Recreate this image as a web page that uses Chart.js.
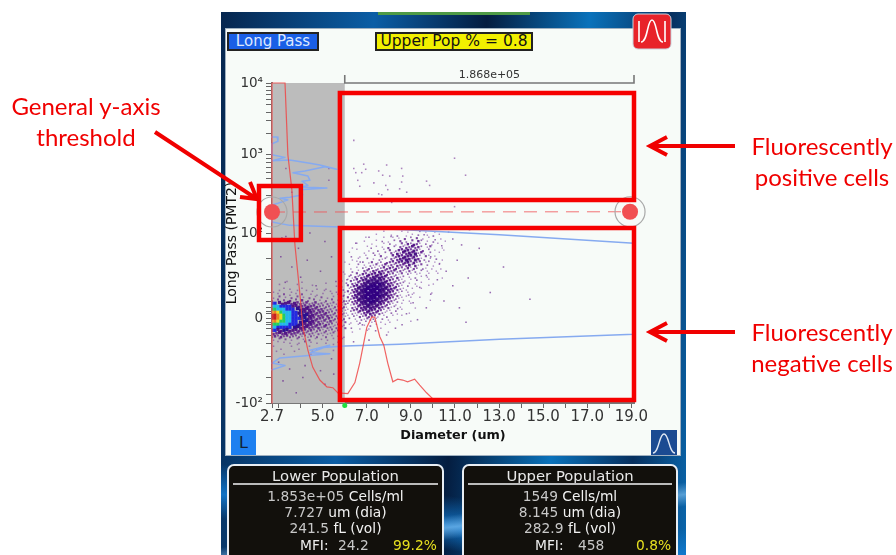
<!DOCTYPE html>
<html>
<head>
<meta charset="utf-8">
<title>Long Pass threshold</title>
<script src="https://cdn.jsdelivr.net/npm/chart.js@4/dist/chart.umd.min.js"></script>
<style>
html, body { margin: 0; padding: 0; background: #fff; }
body { width: 896px; height: 555px; position: relative; overflow: hidden; font-family: "DejaVu Sans", sans-serif; }
#frame { position: absolute; left: 221px; top: 12px; width: 465px; height: 543px; overflow: hidden;
    background:
        linear-gradient(172deg, transparent 88%, rgba(150,210,255,.55) 90%, transparent 92%),
        linear-gradient(8deg, transparent 6%, rgba(20,130,220,.8) 10%, transparent 15%),
        linear-gradient(95deg, #06264e 0%, #0b5ea6 30%, #041d40 52%, #0a72bb 72%, #07305f 88%, #0a67ad 100%); }
#topTab { position: absolute; left: 378px; top: 12px; width: 152px; height: 3px; background: #4f9a45; }
#panel { position: absolute; left: 225px; top: 28px; width: 456px; height: 428px; background: #f7fbf8; border: 1px solid #9fb0c0; box-sizing: border-box; }
#badgeLong { position: absolute; left: 227px; top: 32px; width: 92px; height: 19px; box-sizing: border-box; background: #1a5fe6; border: 2px solid #222; color: #dfe9ff; font-size: 15px; line-height: 15px; text-align: center; white-space: nowrap; }
#badgeUpper { position: absolute; left: 375px; top: 32px; width: 158px; height: 19px; box-sizing: border-box; background: #f2f000; border: 2px solid #222; color: #111; font-size: 15.5px; line-height: 15px; text-align: center; white-space: nowrap; }
#btnL { position: absolute; left: 231px; top: 430px; width: 25px; height: 25px; background: #1e80f0; color: #123; font-size: 16px; line-height: 25px; text-align: center; }
#chartCanvas { position: absolute; left: 222px; top: 55px; filter: blur(.35px); }
#overlay { position: absolute; left: 0; top: 0; }
.note { position: absolute; color: #f00000; font-family: Lato, sans-serif; font-size: 24px; line-height: 31px; text-align: center; white-space: nowrap; }
.stats { position: absolute; top: 464px; height: 100px; box-sizing: border-box; background: #12100c; border: 2px solid #e8eef4; border-radius: 7px; color: #c8c8c8; font-size: 13.8px; filter: blur(.3px); }
.stats div { position: absolute; left: 0; width: 100%; text-align: center; line-height: 16px; white-space: nowrap; }
.stats .head { font-size: 14.8px; color: #e8e8e8; top: 2px; }
.stats hr { position: absolute; left: 4px; right: 4px; top: 17px; height: 2px; border: 0; margin: 0; background: #bbb; }
.stats b { font-weight: normal; color: #f2f2f2; }
.stats span { position: absolute; top: 0; }
.stats .pct { color: #e6e020; }
</style>
</head>
<body>
<div id="frame"></div>
<div id="topTab"></div>
<div id="panel"></div>
<div id="badgeLong">Long Pass</div>
<div id="badgeUpper">Upper Pop % = 0.8</div>
<div id="btnL">L</div>
<canvas id="chartCanvas" width="445" height="395"></canvas>

<div class="stats" style="left:227px;width:217px">
    <div class="head">Lower Population</div><hr>
    <div style="top:22px">1.853e+05 <b>Cells/ml</b></div>
    <div style="top:38px">7.727 <b>um (dia)</b></div>
    <div style="top:54px">241.5 <b>fL (vol)</b></div>
    <div style="top:71px"><span style="left:71px;color:#eee">MFI:</span><span style="left:109px">24.2</span><span class="pct" style="left:164px">99.2%</span></div>
</div>
<div class="stats" style="left:462px;width:216px">
    <div class="head">Upper Population</div><hr>
    <div style="top:22px">1549 <b>Cells/ml</b></div>
    <div style="top:38px">8.145 <b>um (dia)</b></div>
    <div style="top:54px">282.9 <b>fL (vol)</b></div>
    <div style="top:71px"><span style="left:71px;color:#eee">MFI:</span><span style="left:114px">458</span><span class="pct" style="left:172px">0.8%</span></div>
</div>

<svg id="overlay" width="896" height="555">
    <g fill="none" stroke="#f00000" stroke-width="4">
        <path d="M155 132 L257 199 M240 197 L257 199 L250 182"/>
        <path d="M735 146 L650 146 M667 137 L650 146 L667 155"/>
        <path d="M735 332 L650 332 M667 323 L650 332 L667 341"/>
    </g>
    <rect x="633" y="14" width="38" height="35" rx="5" fill="#e8232a" stroke="#c9d3dc"/>
    <path d="M639 42 V21 M665 42 V21 M641 42 C648 42 647 20 652 20 C657 20 656 42 663 42" fill="none" stroke="#fff" stroke-width="1.6"/>
    <rect x="651" y="430" width="26" height="25" fill="#1b4b92"/>
    <path d="M653 453 C659 453 659 434 664 434 C669 434 669 453 675 453" fill="none" stroke="#dfe8f4" stroke-width="1.4"/>
</svg>

<div class="note" style="left:0;top:90px;width:172px">General y-axis<br>threshold</div>
<div class="note" style="left:738px;top:130px;width:168px">Fluorescently<br>positive cells</div>
<div class="note" style="left:738px;top:316px;width:168px">Fluorescently<br>negative cells</div>

<script>
// y values are in the instrument's display units: 0 is 0, 1 is 10^2, and the axis squeezes above that
var xTicks = [2.7, 3, 4, 5, 6, 7, 8, 9, 10, 11, 12, 13, 14, 15, 16, 17, 18, 19];
var xTickLabels = ["2.7", "", "", "5.0", "", "7.0", "", "9.0", "", "11.0", "", "13.0", "", "15.0", "", "17.0", "", "19.0"];
var yTicks = [-1, 0, 1, 1.918, 2.765];
var yTickLabels = ["-10²", "0", "10²", "10³", "10⁴"];
var yMinorTicks = [-0.9, -0.7, -0.45, -0.3, -0.2, -0.12, -0.08, -0.05, 0.05, 0.08, 0.12, 0.2, 0.3, 0.45, 0.7,
    1.28, 1.44, 1.55, 1.64, 1.71, 1.77, 1.83, 1.88, 2.17, 2.32, 2.42, 2.51, 2.57, 2.63, 2.68, 2.72];

var xMin = 2.7;
var xMax = 19.12;
var yMin = -1;
var yMax = 2.765;

// diameter histogram, red
var diameterHist = [[2.7, -1], [2.7, 2.765], [3.29, 2.765], [3.42, 1.92], [3.6, 1.51], [3.74, 0.86], [3.97, 0.27],
    [4.1, -0.11], [4.33, -0.38], [4.55, -0.58], [4.87, -0.73], [5.19, -0.81], [5.46, -0.82], [5.69, -0.88], [6.14, -0.89],
    [6.46, -0.76], [6.68, -0.53], [7, -0.11], [7.22, 0.01], [7.36, 0.01], [7.59, -0.22], [7.77, -0.32], [7.95, -0.53],
    [8.18, -0.75], [8.4, -0.72], [8.63, -0.73], [8.85, -0.75], [9.17, -0.72], [9.4, -0.79], [9.71, -0.88], [9.99, -0.95]];

// fluorescence histogram, blue, it runs sideways off the y axis
var fluorHist = [[2.7, 2.13], [2.93, 2.13], [2.97, 2.08], [2.7, 2.05], [2.7, 1.92], [3.29, 1.89], [2.7, 1.85], [3.51, 1.86],
    [4.42, 1.82], [4.87, 1.8], [5.64, 1.75], [5.1, 1.78], [4.19, 1.73], [3.65, 1.71], [4.33, 1.67], [4.42, 1.62], [4.06, 1.61],
    [4.33, 1.56], [3.97, 1.54], [5.19, 1.53], [3.97, 1.51], [4.1, 1.45], [3.51, 1.42], [3.06, 1.41], [3.42, 1.39], [2.97, 1.35],
    [2.7, 1.33], [2.7, 1.13], [3.51, 1.09], [5.78, 1.07], [6.68, 1.06], [8.49, 1.04], [13.02, 0.98], [19.12, 0.88],
    [19.12, -0.19], [13.02, -0.25], [8.49, -0.31], [6, -0.33], [4.87, -0.35], [4.42, -0.38], [5.32, -0.32], [4.42, -0.41],
    [5.32, -0.42], [3.97, -0.45], [3.06, -0.47], [2.7, -0.53], [3.29, -0.56], [2.7, -0.61]];

var thresholdValue = [1.247, 1.25];
var gateLeft = 5.78;
var gateRight = 19.12;
var upperGate = [2.647, 1.388];
var lowerGate = [1.059, -0.965];
var yGateBox = [2.11, 4.01, 1.553, 0.918];
var sizingGate = 6.0;
var totalCount = "1.868e+05";

var sparseUpper = [[6.41, 2.09], [6.41, 1.76], [6.86, 1.81], [6.95, 1.75], [6.77, 1.71], [6.5, 1.71], [6.59, 1.62], [6.68, 1.55],
    [7.32, 1.59], [7.9, 1.8], [7.54, 1.73], [7.72, 1.68], [8.04, 1.67], [8.58, 1.76], [8.63, 1.67], [8.58, 1.6], [7.86, 1.56],
    [9.71, 1.61], [9.85, 1.56], [7.95, 1.51], [8.49, 1.52], [8.81, 1.48], [7.54, 1.46], [7.68, 1.45], [8.13, 1.36],
    [10.98, 1.88], [11.48, 1.68], [10.98, 1.31], [3.33, 1.76], [5.28, 1.76], [5.28, 1.62], [3.6, 1.48], [3.97, 1.45]];

var sparseLower = [[10.71, 1.01], [11.66, 1.04], [3.15, 0.94], [3.33, 0.96], [4.42, 1], [9.6, 0.98], [10.1, 0.92], [10.4, 0.85], [10.9, 0.93],
    [9.9, 0.72], [10.3, 0.64], [10.6, 0.55], [11.1, 0.68], [10.2, 0.45], [9.7, 0.5], [10.9, 0.38], [11.6, 0.47], [9.9, 0.28], [10.5, 0.2],
    [12.1, 0.82], [11.3, 0.86], [9.4, 0.36], [9.1, 0.18], [8.8, 0.05], [8.6, -0.08], [9.3, -0.02], [8.3, -0.12], [7.9, -0.2], [7.4, -0.15],
    [6.8, -0.08], [6.3, -0.12], [6.2, 0.2], [6.1, 0.45], [6.3, 0.72], [6.7, 0.66], [7.2, 0.82], [7.7, 0.9], [8.1, 0.96], [6.5, 0.88], [7.1, 0.95],
    [8.4, 0.11], [8.9, 0.27], [6.4, -0.28], [7.1, -0.26], [11.2, 0.12], [12.6, 0.3], [14.4, 0.22], [11.5, -0.05], [13.2, 0.6], [9.7, 0.12],
    [3.1, 0.72], [3.6, 0.6], [4.3, 0.68], [4.9, 0.55], [5.4, 0.72], [3.3, 0.42], [4, 0.48], [4.7, 0.38], [5.6, 0.43], [3.9, 0.82], [5.1, 0.9],
    [3, -0.52], [3.5, -0.6], [4.2, -0.56], [4.9, -0.62], [5.4, -0.48], [3.2, -0.74], [4.1, -0.7], [5.1, -0.78], [3.8, -0.88], [5.5, -0.66]];

var cloudOrigin = [5.87, 1.01];
var cloudStep = [0.136, 0.0353];
var cloudRows = [
    "00000000000000100000101000201001000",
    "00000000000100001020010102001020100",
    "00000000100000100101030203010100010",
    "00000001000100010203020304201020001",
    "00000100001000102010314253102010100",
    "00010000100101030203243534201300010",
    "00000100010020103024465363130201001",
    "00100001002010203152546472410200100",
    "00000010100203010435465653203101000",
    "00010100201021203245575364120102010",
    "01000102013012033434546352301201000",
    "00100201021312423243435241302010100",
    "00010102132122434342324132021010010",
    "10020103324354343423213120201001000",
    "01020324354546342321302101100100100",
    "00213243546675533241201020101000010",
    "10132435677776544322110102000100000",
    "02032446788897654332201010100010000",
    "10324567899998765342102001000100000",
    "20134678999998765432110100100000000",
    "01324678999998765421201010000010000",
    "20135678999998764331010100000000000",
    "10324678999987654321100100100000000",
    "02134678899876543220101000000100000",
    "10213456887765432110100100000000000",
    "01032456776654331201000010000000000",
    "20123445665543211020100000000000000",
    "01021324554432102010001000000000000",
    "10102132433310120100100000000000000",
    "00201021322102010010000000000000000",
    "01010120201201001000000100000000000",
    "00100101020100100000000000000000000",
    "01000010010001000000000000000000000",
    "00010000100000010000000000000000000"
];

// the rainbow population at the small end of the x axis, same idea with colour codes
var coreOrigin = [2.7, 0.42];
var coreStep = [0.136, 0.0353];
var coreRows = [
    ".....1....1.......1....1.",
    "..1.....1....1.......1...",
    "....1.1...1....1..1....1.",
    "1.1...1.1..1.1...1.1.1...",
    "..1.2.1.1.2..1.1.1..1.1.1",
    "1.2.1.2.2.1.2.1.2.1.1.2..",
    "2.2.2.3.2.3.2.2.1.2.2.1.2",
    "bb44443433232232212121112",
    "cccbbbb444334333222212112",
    "ggcccbbb55444333322212121",
    "yoygcccbb5544433333222121",
    "rroygccbb5554433333222121",
    "rroygccbbb554433332322212",
    "yoyggccbb5554433232321212",
    "gggcccbbb5544433323221211",
    "ccbbbbb554443333232212112",
    "bb4455444333232221212121.",
    "334343333232221212112.1..",
    "2323232222121212.12.1.1.1",
    "1.2.2.1.2.1.2.1.1.1.1..1.",
    "..1.1.1..1.2.1.1..1...1..",
    "1.....1.1...1.....1.1....",
    "...1.....1.....1.........",
    ".1.....1.....1......1....",
    "....1........1..........."
];

var coreColors = {
    "1": "rgba(110,40,150,.5)", "2": "rgba(100,30,140,.7)", "3": "rgba(90,20,135,.85)", "4": "rgba(75,10,130,.92)",
    "5": "#2c108f", b: "#2228e0", c: "#1fb8ee", g: "#22d060", y: "#e8e020", o: "#f08020", r: "#c81e1e"
};
var coreSizes = { "1": 1.1, "2": 1.4, "3": 1.8, "4": 2.2, "5": 2.3 };
var cloudColors = ["", "rgba(130,70,165,.6)", "rgba(110,45,150,.7)", "rgba(95,25,140,.8)", "rgba(85,15,135,.88)",
    "rgba(75,10,130,.92)", "rgba(65,5,125,.92)", "rgba(60,5,125,.94)", "rgba(55,5,125,.96)", "rgba(50,0,130,1)"];
var cloudSizes = [0, 1, 1.2, 1.5, 1.7, 1.9, 2.1, 2.3, 2.4, 2.5];

// purple dots sit on a staggered layout so the cells do not read as a lattice
function gridPoints(rows, origin, step, colorOf, sizeOf) {
    var pts = [], colors = [], sizes = [];
    for (var r = 0; r < rows.length; r++) {
        for (var c = 0; c < rows[r].length; c++) {
            var code = rows[r][c];
            if (code === "." || code === "0") continue;
            var isDigit = code >= "0" && code <= "9";
            var sx = isDigit ? (r % 2) * step[0] / 2 : 0;
            var sy = isDigit ? ((c % 3) - 1) * step[1] * 0.3 : 0;
            pts.push({ x: origin[0] + c * step[0] + sx, y: origin[1] - r * step[1] + sy });
            colors.push(colorOf(code));
            sizes.push(sizeOf(code));
        }
    }
    return { pts: pts, colors: colors, sizes: sizes };
}

function toXY(list) {
    return list.map(function (p) { return { x: p[0], y: p[1] }; });
}

function boxPath(x0, x1, y0, y1) {
    return [{ x: x0, y: y0 }, { x: x1, y: y0 }, { x: x1, y: y1 }, { x: x0, y: y1 }, { x: x0, y: y0 }];
}

function lineSet(data, color, width, extra) {
    var set = { data: data, showLine: true, borderColor: color, borderWidth: width, pointRadius: 0, tension: 0, clip: false, fill: false, borderJoinStyle: "miter", borderCapStyle: "square" };
    for (var k in extra) set[k] = extra[k];
    return set;
}

var cloud = gridPoints(cloudRows, cloudOrigin, cloudStep,
    function (d) { return cloudColors[+d]; },
    function (d) { return cloudSizes[+d]; });
var core = gridPoints(coreRows, coreOrigin, coreStep,
    function (d) { return coreColors[d]; },
    function (d) { return coreSizes[d] || 2.3; });

// grey part of the plot left of the sizing gate, plus the count over the bracket
var plotExtras = {
    id: "plotExtras",
    beforeDatasetsDraw: function (chart) {
        var c = chart.ctx, a = chart.chartArea;
        var right = chart.scales.x.getPixelForValue(sizingGate);
        c.save();
        c.fillStyle = "#bcbcbc";
        c.fillRect(a.left, a.top, right - a.left, a.bottom - a.top);
        c.restore();
    },
    afterDraw: function (chart) {
        var c = chart.ctx, x = chart.scales.x;
        c.save();
        c.fillStyle = "#333";
        c.font = "11px 'DejaVu Sans'";
        c.textAlign = "center";
        c.textBaseline = "middle";
        c.fillText(totalCount, (x.getPixelForValue(sizingGate) + x.getPixelForValue(gateRight)) / 2, chart.chartArea.top - 8);
        c.restore();
    }
};

// first dataset ends up on top
var datasets = [
    lineSet(boxPath(gateLeft, gateRight, upperGate[0], upperGate[1]), "#f60000", 4.5),
    lineSet(boxPath(gateLeft, gateRight, lowerGate[0], lowerGate[1]), "#f60000", 4.5),
    lineSet(boxPath(yGateBox[0], yGateBox[1], yGateBox[2], yGateBox[3]), "#f60000", 4.5),
    { data: [{ x: 6.0, y: -1.03 }], pointRadius: 2.5, backgroundColor: "#20e040", borderWidth: 0, clip: false },
    { data: [{ x: xMin, y: thresholdValue[0] }, { x: 18.94, y: thresholdValue[1] }], pointRadius: 8, backgroundColor: "#f14f52", borderWidth: 0, clip: false },
    { data: [{ x: xMin, y: thresholdValue[0] }, { x: 18.94, y: thresholdValue[1] }], pointRadius: 15, backgroundColor: "rgba(0,0,0,0)", borderColor: "#a8a8a8", borderWidth: 1.2, clip: false },
    lineSet([{ x: xMin, y: thresholdValue[0] }, { x: 18.94, y: thresholdValue[1] }], "rgba(240,80,84,.8)", 1, { borderDash: [13, 8], borderCapStyle: "butt" }),
    lineSet(toXY(diameterHist), "rgba(238,70,70,.85)", 1.2),
    lineSet(toXY(fluorHist), "#86aaf0", 1.5, { borderJoinStyle: "round" }),
    lineSet([{ x: sizingGate, y: 2.85 }, { x: sizingGate, y: yMax }, { x: gateRight, y: yMax }, { x: gateRight, y: 2.85 }], "#777", 1.6),
    { data: toXY(sparseUpper), pointStyle: "rect", pointRadius: 1.1, backgroundColor: "rgba(120,50,150,.6)", borderWidth: 0 },
    { data: toXY(sparseLower), pointStyle: "rect", pointRadius: 1.1, backgroundColor: "rgba(100,30,140,.65)", borderWidth: 0 },
    { data: cloud.pts, pointStyle: "rect", pointRadius: cloud.sizes, backgroundColor: cloud.colors, borderWidth: 0 },
    { data: core.pts, pointStyle: "rect", pointRadius: core.sizes, backgroundColor: core.colors, borderWidth: 0 }
];

new Chart(document.getElementById("chartCanvas"), {
    type: "scatter",
    data: { datasets: datasets },
    plugins: [plotExtras],
    options: {
        responsive: false,
        animation: false,
        layout: { padding: { left: 0, right: 33, top: 28, bottom: 0 } },
        plugins: { legend: { display: false }, tooltip: { enabled: false } },
        scales: {
            x: {
                type: "linear",
                min: xMin,
                max: xMax,
                afterFit: function (s) { s.height = 47; },
                afterBuildTicks: function (s) { s.ticks = xTicks.map(function (v) { return { value: v }; }); },
                ticks: {
                    autoSkip: false, maxRotation: 0, padding: 0, color: "#333",
                    font: { family: "DejaVu Sans", size: 15 },
                    callback: function (v) { var i = xTicks.indexOf(v); return i < 0 ? "" : xTickLabels[i]; }
                },
                grid: { display: true, drawOnChartArea: false, tickLength: 5, color: "#666" },
                border: { color: "#777", width: 2 },
                title: { display: true, text: "Diameter (um)", color: "#111", font: { family: "DejaVu Sans", size: 12.8, weight: "bold" }, padding: { top: 0, bottom: 7 } }
            },
            y: {
                type: "linear",
                min: yMin,
                max: yMax,
                afterFit: function (s) { s.width = 50; },
                afterBuildTicks: function (s) {
                    s.ticks = yTicks.concat(yMinorTicks).sort(function (a, b) { return a - b; }).map(function (v) { return { value: v }; });
                },
                ticks: {
                    autoSkip: false, padding: 3, color: "#333",
                    font: { family: "DejaVu Sans", size: 13.5 },
                    callback: function (v) { var i = yTicks.indexOf(v); return i < 0 ? "" : yTickLabels[i]; }
                },
                grid: { display: true, drawOnChartArea: false, tickLength: 6, color: "#666" },
                border: { color: "#777", width: 2 },
                title: { display: true, text: "Long Pass (PMT2)", color: "#111", font: { family: "DejaVu Sans", size: 14 }, padding: { top: 2, bottom: 0 } }
            }
        }
    }
});
</script>
</body>
</html>
